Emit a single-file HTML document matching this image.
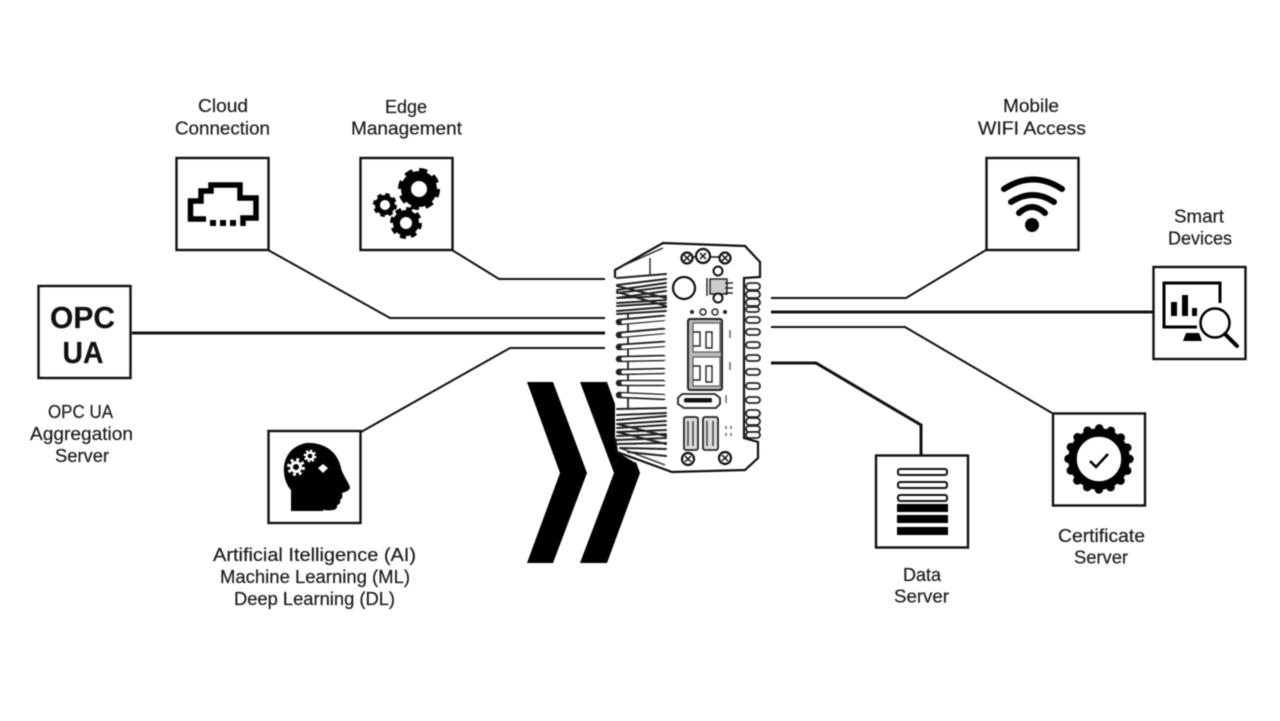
<!DOCTYPE html>
<html><head><meta charset="utf-8"><style>
html,body{margin:0;padding:0;background:#fff;width:1280px;height:721px;overflow:hidden}
svg{display:block}
text{font-family:"Liberation Sans",sans-serif;font-size:18px;fill:#1c1c1c;text-anchor:middle;stroke:#1c1c1c;stroke-width:.2px}
.b{fill:#fff;stroke:#111;stroke-width:2.400}
.l{fill:none;stroke:#111;stroke-width:2}
.t{fill:none;stroke:#111;stroke-width:3}
.d{fill:none;stroke:#222;stroke-width:1.400}
</style></head><body>
<svg width="1280" height="721" viewBox="0 0 1280 721" xmlns="http://www.w3.org/2000/svg" style="filter:blur(.4px)">
<rect width="1280" height="721" fill="#fff"/>
<!-- connectors -->
<path class="l" d="M268 250L390 318H605"/>
<path class="l" d="M452 250L499 279H605"/>
<path class="t" d="M132 333H605"/>
<path class="l" d="M361 432L510 348H605"/>
<path class="l" d="M986 250L906 298H771"/>
<path class="t" d="M771 312H1153"/>
<path class="l" d="M1052 413L905 327H771"/>
<path class="t" d="M771 363H816L921 425V455"/>
<!-- chevrons -->
<path d="M527 382H553L587 473L553 563H527L560 473Z" fill="#000"/>
<path d="M580 382H607L640 473L607 563H580L614 473Z" fill="#000"/>
<!-- boxes -->
<rect class="b" x="176.500" y="158" width="92" height="92"/>
<rect class="b" x="360.500" y="158" width="92" height="92"/>
<rect class="b" x="986.500" y="158" width="92" height="92"/>
<rect class="b" x="1153.500" y="267" width="92" height="92"/>
<rect class="b" x="1053" y="413.500" width="92" height="92"/>
<rect class="b" x="876" y="455.500" width="92" height="92"/>
<rect class="b" x="38.500" y="286" width="92" height="92"/>
<rect class="b" x="268.500" y="431" width="92" height="92"/>
<!-- cloud icon -->
<path d="M206 219H190.500V201H201V191H211V185H240V198H256V218H243V226" fill="none" stroke="#000" stroke-width="5.500"/>
<path d="M210 220h6v6h-6zM220 220h6v6h-6zM230 220h6v6h-6z" fill="#000"/>
<!-- gears -->
<g fill="none" stroke="#000">
<circle cx="419" cy="189" r="13" stroke-width="10"/><circle cx="419" cy="189" r="18.500" stroke-width="5" stroke-dasharray="8 6.530"/>
<circle cx="406" cy="223" r="9.500" stroke-width="7"/><circle cx="406" cy="223" r="14" stroke-width="4" stroke-dasharray="6 5"/>
<circle cx="385" cy="205" r="7.500" stroke-width="5"/><circle cx="385" cy="205" r="10.500" stroke-width="3" stroke-dasharray="4.500 3.750"/>
</g>
<!-- wifi -->
<g fill="none" stroke="#000" stroke-linecap="round">
<path d="M1004 189Q1033 170 1062 189" stroke-width="6"/>
<path d="M1011 202Q1033 188 1054 202" stroke-width="6"/>
<path d="M1019 213Q1032 201 1045 213" stroke-width="6"/>
</g>
<circle cx="1032" cy="225" r="7" fill="#000"/>
<!-- smart devices -->
<path d="M1220 303V283H1164V327H1197" fill="none" stroke="#000" stroke-width="3"/>
<path d="M1171 316V302H1177V316ZM1182 316V295H1188V316ZM1192 316V308H1197V316Z" fill="#000"/>
<path d="M1183 341L1186 333H1199L1202 341Z" fill="#000"/>
<circle cx="1215" cy="323" r="14.500" fill="#fff" stroke="#000" stroke-width="2.500"/>
<path d="M1225 334L1237 346" stroke="#000" stroke-width="4" stroke-linecap="round"/>
<!-- certificate -->
<circle cx="1099" cy="459" r="26.500" fill="none" stroke="#000" stroke-width="8.500"/>
<circle cx="1099" cy="459" r="30.500" fill="none" stroke="#000" stroke-width="8.500" stroke-linecap="round" stroke-dasharray="0 11.980"/>
<path d="M1090 461L1096 467L1108 454" fill="none" stroke="#000" stroke-width="2.500"/>
<!-- data -->
<g fill="#fff" stroke="#111" stroke-width="2">
<rect x="898" y="469" width="49" height="6" rx="2"/>
<rect x="898" y="482" width="49" height="6" rx="2"/>
<rect x="898" y="495" width="49" height="6" rx="2"/>
</g>
<path d="M897 504h51v8h-51zM897 515h51v8h-51zM897 527h51v8h-51z" fill="#000"/>
<!-- OPC UA -->
<text x="82.500" y="328" textLength="65" lengthAdjust="spacingAndGlyphs" style="font-size:31px;font-weight:700;fill:#111">OPC</text>
<text x="83" y="363" textLength="41" lengthAdjust="spacingAndGlyphs" style="font-size:31px;font-weight:700;fill:#111">UA</text>
<!-- head -->
<path d="M306 443C324 442 338 452 341 468C342 474 350 484 350 488C349 491 345 492 342 493C343 497 342 499 340 500C341 503 339 505 337 505C338 510 333 511 323 510V511H291V490C281 480 278 449 306 443Z" fill="#000"/>
<g fill="none" stroke="#fff">
<circle cx="296" cy="467" r="4.500" stroke-width="3"/><circle cx="296" cy="467" r="7.500" stroke-width="3" stroke-dasharray="2.900 3"/>
<circle cx="310" cy="456" r="3.500" stroke-width="2.500"/><circle cx="310" cy="456" r="5.500" stroke-width="1.800" stroke-dasharray="2.300 2"/>
</g>
<path d="M323 464l5 4-5 5-5-5z" fill="#fff"/>
<!-- labels -->
<g>
<text x="223" y="112" textLength="50" lengthAdjust="spacingAndGlyphs">Cloud</text>
<text x="222.500" y="134.500" textLength="95" lengthAdjust="spacingAndGlyphs">Connection</text>
<text x="406" y="113" textLength="42" lengthAdjust="spacingAndGlyphs">Edge</text>
<text x="406.500" y="134.500" textLength="111" lengthAdjust="spacingAndGlyphs">Management</text>
<text x="1031" y="112" textLength="56" lengthAdjust="spacingAndGlyphs">Mobile</text>
<text x="1032" y="134.500" textLength="108" lengthAdjust="spacingAndGlyphs">WIFI Access</text>
<text x="1199" y="222.500" textLength="50" lengthAdjust="spacingAndGlyphs">Smart</text>
<text x="1200" y="244.500" textLength="64" lengthAdjust="spacingAndGlyphs">Devices</text>
<text x="80.500" y="418" textLength="65" lengthAdjust="spacingAndGlyphs">OPC UA</text>
<text x="81.500" y="440" textLength="103" lengthAdjust="spacingAndGlyphs">Aggregation</text>
<text x="82" y="462" textLength="54" lengthAdjust="spacingAndGlyphs">Server</text>
<text x="314.500" y="561" textLength="203" lengthAdjust="spacingAndGlyphs">Artificial Itelligence (AI)</text>
<text x="315" y="583" textLength="190" lengthAdjust="spacingAndGlyphs">Machine Learning (ML)</text>
<text x="314.500" y="605" textLength="161" lengthAdjust="spacingAndGlyphs">Deep Learning (DL)</text>
<text x="1101.500" y="542" textLength="87" lengthAdjust="spacingAndGlyphs">Certificate</text>
<text x="1101" y="563.500" textLength="54" lengthAdjust="spacingAndGlyphs">Server</text>
<text x="922" y="581" textLength="38" lengthAdjust="spacingAndGlyphs">Data</text>
<text x="921.500" y="602.500" textLength="55" lengthAdjust="spacingAndGlyphs">Server</text>
</g>
<!-- device body -->
<path d="M663 243L745 246L760 262V277L744 278V438L758 442V458L745 470L672 472L634 462L617 452L615 438V278L615 270Z" fill="#fff"/>
<path d="M615 278L615 270L663 243L745 246L760 262V277L744 278V438L758 442V458L745 470L672 472L617 452L615 438" fill="none" stroke="#111" stroke-width="2.200"/>
<path d="M620 267L663 248M650 258V276M620 448L665 465" fill="none" stroke="#222" stroke-width="1.400"/>
<path d="M628 314V408" fill="none" stroke="#222" stroke-width="1.800"/>
<!-- left fins: middle rows -->
<g fill="none" stroke-linecap="round">
<path stroke="#222" stroke-width="6.500" d="M619 322L663 318M619 335L663 331M619 347L663 344M619 359L663 358M619 372L663 371M619 383L663 383M619 395L663 397"/>
<path stroke="#fff" stroke-width="3.400" d="M623 322L668 318M623 335L668 331M623 347L668 344M623 359L668 358M623 372L668 371M623 383L668 383M623 395L668 397"/>
</g>
<!-- left fins: top and bottom clusters -->
<g fill="none" stroke="#222" stroke-width="2" stroke-linecap="round">
<path d="M617 278L666 274M617 285L666 279M617 290L666 283M617 293L666 287M617 298L666 291M617 298L666 296M617 303L666 300M617 306L666 303M617 311L666 307M617 314L666 311M617 286L666 298M617 292L666 306"/>
<path d="M617 409L666 408M617 415L666 413M617 420L666 416M617 424L666 421M617 428L666 425M617 432L666 430M617 436L666 434M617 440L666 438M617 444L666 443M617 424L666 436M617 432L666 444M620 448L666 449M628 452L666 456"/>
</g>
<!-- right fins -->
<g fill="#fff" stroke="#222" stroke-width="1.800">
<rect x="746" y="283" width="14" height="7" rx="3.500"/><rect x="746" y="291" width="14" height="7" rx="3.500"/><rect x="746" y="299" width="14" height="7" rx="3.500"/><rect x="746" y="307" width="13" height="5" rx="2.500"/>
<rect x="746" y="317" width="14" height="6" rx="3"/><rect x="746" y="329" width="14" height="6" rx="3"/><rect x="746" y="342" width="14" height="6" rx="3"/><rect x="746" y="355" width="14" height="6" rx="3"/><rect x="746" y="369" width="14" height="6" rx="3"/><rect x="746" y="383" width="14" height="6" rx="3"/><rect x="746" y="397" width="14" height="6" rx="3"/>
<rect x="746" y="410" width="14" height="7" rx="3.500"/><rect x="746" y="418" width="14" height="7" rx="3.500"/><rect x="746" y="426" width="14" height="6" rx="3"/><rect x="746" y="432" width="14" height="6" rx="3"/>
</g>
<!-- screws -->
<g fill="#fff" stroke="#111" stroke-width="2.200">
<circle cx="687" cy="258" r="5.500"/><circle cx="703" cy="256" r="7"/><circle cx="725" cy="258" r="5.500"/>
<circle cx="688" cy="459" r="6"/><circle cx="725" cy="458" r="6"/>
<circle cx="684" cy="288" r="11"/>
</g>
<path d="M684 255l6 6M690 255l-6 6M700 253l6 6M706 253l-6 6M722 255l6 6M728 255l-6 6M685 456l6 6M691 456l-6 6M722 455l6 6M728 455l-6 6M692 257H696M711 257H719" stroke="#111" stroke-width="1.500" fill="none"/>
<!-- sma connector -->
<rect x="710" y="279" width="17" height="15" fill="#ccc" stroke="#222" stroke-width="1.500"/>
<circle cx="718" cy="271" r="4.500" fill="#fff" stroke="#111" stroke-width="2"/>
<circle cx="718" cy="298" r="4.500" fill="#fff" stroke="#111" stroke-width="2"/>
<path d="M707 278V296M725 283h8M725 288h8M725 293h8" stroke="#222" stroke-width="1.500" fill="none"/>
<!-- LEDs -->
<circle cx="692" cy="312" r="2" fill="#222"/><circle cx="703" cy="312" r="3" fill="#fff" stroke="#222" stroke-width="1.500"/><circle cx="715" cy="312" r="3" fill="#fff" stroke="#222" stroke-width="1.500"/><circle cx="725" cy="312" r="2" fill="#222"/>
<!-- ethernet -->
<rect x="688" y="319" width="34" height="71" rx="2" fill="#bbb" stroke="#222" stroke-width="2"/>
<rect x="693" y="323" width="27" height="29" fill="#fff" stroke="#555" stroke-width="1.200"/>
<rect x="693" y="357" width="27" height="29" fill="#fff" stroke="#555" stroke-width="1.200"/>
<path d="M693 332H700V346H693M693 366H700V380H693M706 332V348H712V332ZM706 366V382H712V366Z" class="d"/>
<!-- displayport -->
<path d="M682 394H715L720 398V404L716 408H684L678 404V398Z" fill="#fff" stroke="#222" stroke-width="1.800"/>
<rect x="684" y="398" width="28" height="4.500" rx="1.500" fill="#111"/>
<!-- USB -->
<rect x="684" y="417" width="14" height="33" rx="2" fill="#ddd" stroke="#222" stroke-width="1.800"/>
<rect x="703" y="417" width="15" height="33" rx="2" fill="#ddd" stroke="#222" stroke-width="1.800"/>
<path d="M688 421V446M693 421V446M707 421V446M713 421V446" stroke="#333" stroke-width="1.400" fill="none"/>
<!-- silkscreen marks -->
<path d="M730 330v8M730 362v8M726 395v8M726 426v3M731 426v3M726 433v3M731 433v3" stroke="#666" stroke-width="1.500" fill="none"/>
</svg>
</body></html>
